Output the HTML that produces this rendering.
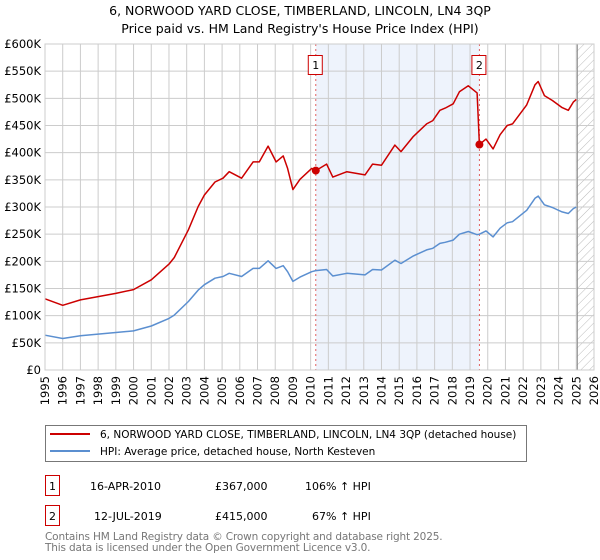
<!DOCTYPE html>
<html><head><meta charset="utf-8"><style>
body{margin:0;background:#fff;}
svg{display:block;font-family:"DejaVu Sans","Liberation Sans",sans-serif;}
</style></head><body>
<svg id="c" width="600" height="560" viewBox="0 0 600 560">
<text x="300" y="15" text-anchor="middle" font-size="12.5" fill="#000">6, NORWOOD YARD CLOSE, TIMBERLAND, LINCOLN, LN4 3QP</text>
<text x="300" y="33" text-anchor="middle" font-size="12.5" fill="#000">Price paid vs. HM Land Registry's House Price Index (HPI)</text>
<defs><pattern id="h" width="6" height="6" patternUnits="userSpaceOnUse" patternTransform="rotate(45)"><line x1="0" y1="0" x2="0" y2="6" stroke="#bbb" stroke-width="1"/></pattern></defs>
<g id="plot"></g>
<g>
<rect x="45.5" y="425.5" width="481" height="36" fill="#fff" stroke="#777"/>
<line x1="50" y1="434" x2="90" y2="434" stroke="#cc0000" stroke-width="2"/>
<text x="100" y="438" font-size="10.5">6, NORWOOD YARD CLOSE, TIMBERLAND, LINCOLN, LN4 3QP (detached house)</text>
<line x1="50" y1="451" x2="90" y2="451" stroke="#5b8fd0" stroke-width="2"/>
<text x="100" y="455" font-size="10.5">HPI: Average price, detached house, North Kesteven</text>
</g>
<g font-size="11">
<rect x="45.5" y="475.5" width="14" height="20" fill="#fff" stroke="#cc0000"/>
<text x="52.5" y="490" text-anchor="middle">1</text>
<text x="90" y="490">16-APR-2010</text><text x="215" y="490">£367,000</text><text x="305" y="490">106% ↑ HPI</text>
<rect x="45.5" y="505.5" width="14" height="20" fill="#fff" stroke="#cc0000"/>
<text x="52.5" y="520" text-anchor="middle">2</text>
<text x="94" y="520">12-JUL-2019</text><text x="215" y="520">£415,000</text><text x="312" y="520">67% ↑ HPI</text>
</g>
<text x="45" y="540" font-size="10.5" letter-spacing="-0.15" fill="#777">Contains HM Land Registry data © Crown copyright and database right 2025.</text>
<text x="45" y="551" font-size="10.5" letter-spacing="-0.15" fill="#777">This data is licensed under the Open Government Licence v3.0.</text>
</svg>
<script>
const hpiDates=[1995.0,1996.0,1997.0,1998.0,1999.0,2000.0,2001.0,2002.0,2002.3,2003.1,2003.65,2004.0,2004.6,2005.05,2005.4,2006.1,2006.75,2007.1,2007.6,2008.05,2008.45,2008.7,2009.0,2009.4,2010.06,2010.29,2010.9,2011.25,2012.05,2013.07,2013.5,2014.0,2014.76,2015.1,2015.8,2016.55,2016.9,2017.3,2017.6,2018.05,2018.4,2018.9,2019.4,2019.53,2019.9,2020.3,2020.7,2021.1,2021.4,2022.2,2022.67,2022.85,2023.2,2023.65,2024.2,2024.55,2024.83,2025.0];
const hpiValues=[64,58,63,66,69,72,81,95,101,126,147,157,169,172,178,172,187,187,201,187,192,181,163,171,181,183,185,173,178,175,185,184,202,196,210,221,224,233,235,239,250,255,249,250,256,245,261,271,273,294,316,320,304,299,291,288,297,300];
const propDates=[1995.0,1996.0,1997.0,1998.0,1999.0,2000.0,2001.0,2002.0,2002.3,2003.1,2003.65,2004.0,2004.6,2005.05,2005.4,2006.1,2006.75,2007.1,2007.6,2008.05,2008.45,2008.7,2009.0,2009.4,2010.06,2010.29,2010.9,2011.25,2012.05,2013.07,2013.5,2014.0,2014.76,2015.1,2015.8,2016.55,2016.9,2017.3,2017.6,2018.05,2018.4,2018.9,2019.4,2019.53,2019.9,2020.3,2020.7,2021.1,2021.4,2022.2,2022.67,2022.85,2023.2,2023.65,2024.2,2024.55,2024.83,2025.0];
const propValues=[131,119,129,135,141,148,166,195,207,258,301,322,346,353,365,353,383,383,412,383,394,371,332,351,371,367,379,355,365,359,379,377,414,402,430,453,459,478,482,490,512,523,510,415,425,407,433,450,453,488,525,531,505,496,483,478,493,498];
const saleDates=[2010.29,2019.53];
const saleValues=[367,415];
const saleLabels=["1","2"];
const yTicks=[0,50,100,150,200,250,300,350,400,450,500,550,600];
const yTickLabels=["£0","£50K","£100K","£150K","£200K","£250K","£300K","£350K","£400K","£450K","£500K","£550K","£600K"];
const xYears=[1995,1996,1997,1998,1999,2000,2001,2002,2003,2004,2005,2006,2007,2008,2009,2010,2011,2012,2013,2014,2015,2016,2017,2018,2019,2020,2021,2022,2023,2024,2025,2026];
const dataEnd=2025.0;

const X0=45,X1=594,Y0=370,Y1=44;
const x=t=>X0+(t-1995)/31*(X1-X0);
const y=v=>Y0-v/600*(Y0-Y1);
const NS="http://www.w3.org/2000/svg";
const g=document.getElementById('plot');
function mk(tag,attrs,parent){const e=document.createElementNS(NS,tag);for(const k in attrs)e.setAttribute(k,attrs[k]);(parent||g).appendChild(e);return e;}

const shade=mk('rect',{x:x(saleDates[0]),y:Y1,width:x(saleDates[1])-x(saleDates[0]),height:Y0-Y1,fill:'#eef3fc'});


const hatch=mk('rect',{x:x(dataEnd),y:Y1,width:X1-x(dataEnd),height:Y0-Y1,fill:'url(#h)'});



yTicks.forEach((v,i)=>{
  const l=mk('line',{x1:X0,x2:X1,y1:y(v),y2:y(v),stroke:'#cccccc','stroke-width':1});
  
  
  const t=mk('text',{x:X0-4,y:y(v)+4,'text-anchor':'end','font-size':11.5,fill:'#000'});
  t.textContent=yTickLabels[i];
  
  
});
xYears.forEach(yr=>{
  const l=mk('line',{x1:x(yr),x2:x(yr),y1:Y1,y2:Y0,stroke:'#cccccc','stroke-width':1});
  
  
  const t=mk('text',{x:0,y:0,'text-anchor':'end','font-size':11.5,fill:'#000',transform:`translate(${x(yr)+4},${Y0+6}) rotate(-90)`});
  t.textContent=String(yr);
  
  
});
const endLine=mk('line',{x1:x(dataEnd)+1,x2:x(dataEnd)+1,y1:Y1,y2:Y0,stroke:'#888','stroke-width':1});



saleDates.forEach((d,i)=>{
  const l=mk('line',{x1:x(d),x2:x(d),y1:Y1,y2:Y0,stroke:'#e06060','stroke-width':1,'stroke-dasharray':'2,3'});
  
  
  const r=mk('rect',{x:x(d)-7.5,y:55.5,width:14,height:19,fill:'#fff',stroke:'#cc0000'});
  
  
  const t=mk('text',{x:x(d),y:69,'text-anchor':'middle','font-size':11});
  t.textContent=saleLabels[i];
  
  
});

const pts=(ds,vs)=>ds.map((d,i)=>x(d).toFixed(1)+','+y(vs[i]).toFixed(1)).join(' ');
const hl=mk('polyline',{points:pts(hpiDates,hpiValues),fill:'none',stroke:'#5b8fd0','stroke-width':1.5,'stroke-linejoin':'round'});


const pl=mk('polyline',{points:pts(propDates,propValues),fill:'none',stroke:'#cc0000','stroke-width':1.5,'stroke-linejoin':'round'});


saleDates.forEach((d,i)=>{
  const c=mk('circle',{cx:x(d),cy:y(saleValues[i]),r:4,fill:'#cc0000'});
  
  
});
const border=mk('rect',{x:X0,y:Y1,width:X1-X0,height:Y0-Y1,fill:'none',stroke:'#cccccc'});


</script>
</body></html>
